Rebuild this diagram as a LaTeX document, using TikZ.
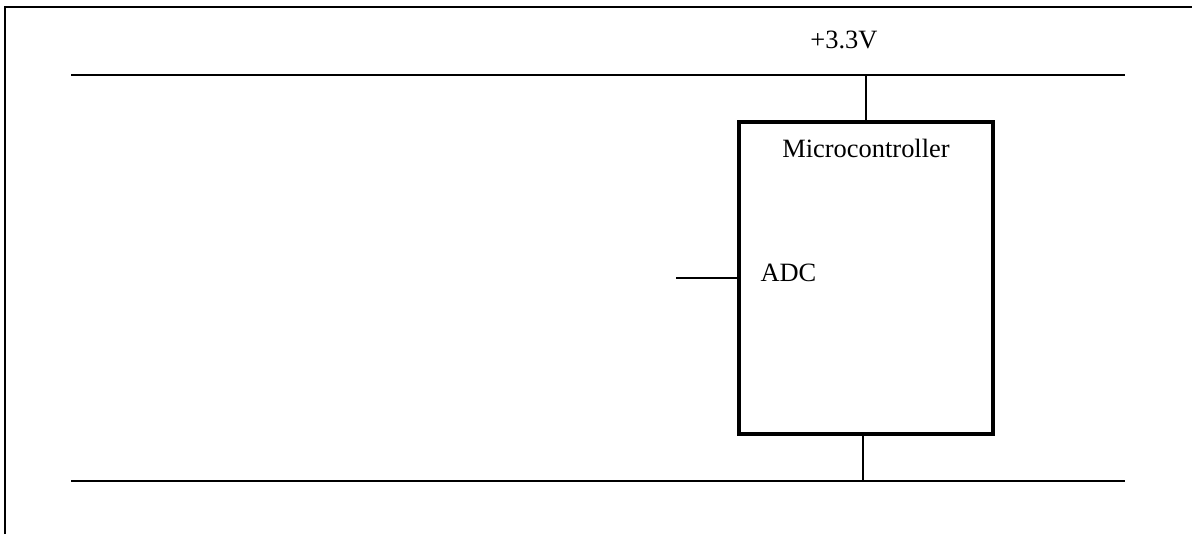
\documentclass[tikz,border=0pt]{standalone}
\usepackage{fontspec}
\setmainfont{Liberation Serif}

\begin{document}
\begin{tikzpicture}[
    chip/.style={rectangle, draw, line width=2.5pt, minimum width=6.35cm, minimum height=7.8cm},
    lbl/.style={font=\fontsize{18.8}{22}\selectfont, text=black},
    rail/.style={line width=1.4pt},
    wire/.style={line width=1.3pt}
]
\useasboundingbox (0,0) rectangle (29.8,13.35);

% Cadre
\coordinate (framebl) at (0.125,0);
\coordinate (frametl) at (0.125,13.175);
\coordinate (frametr) at (29.8,13.175);
\draw[wire] (framebl) -- (frametl) -- (frametr);

% Rails
\coordinate (vccl) at (1.775,11.475);
\coordinate (vccr) at (28.125,11.475);
\coordinate (gndl) at (1.775,1.325);
\coordinate (gndr) at (28.125,1.325);
\coordinate (gndtap) at (21.575,1.325);
\coordinate (adcin) at (16.9,6.4);
\draw[rail] (vccl) -- (vccr);
\draw[rail] (gndl) -- (gndr);

% Composant
\node[chip] (mcu) at (21.65,6.4) {};
\node[lbl] (vcclabel) at (21.1,12.35) {+3.3V};
\node[lbl] (mculabel) at (21.65,9.645) {Microcontroller};
\node[lbl] (adclabel) at (19.71,6.52) {ADC};

% Connexions
\draw[wire] (vccl -| mcu.north) -- (mcu.north);
\draw[wire] (gndtap) -- (gndtap |- mcu.south);
\draw[wire] (adcin) -- (mcu.west);

\end{tikzpicture}
\end{document}
